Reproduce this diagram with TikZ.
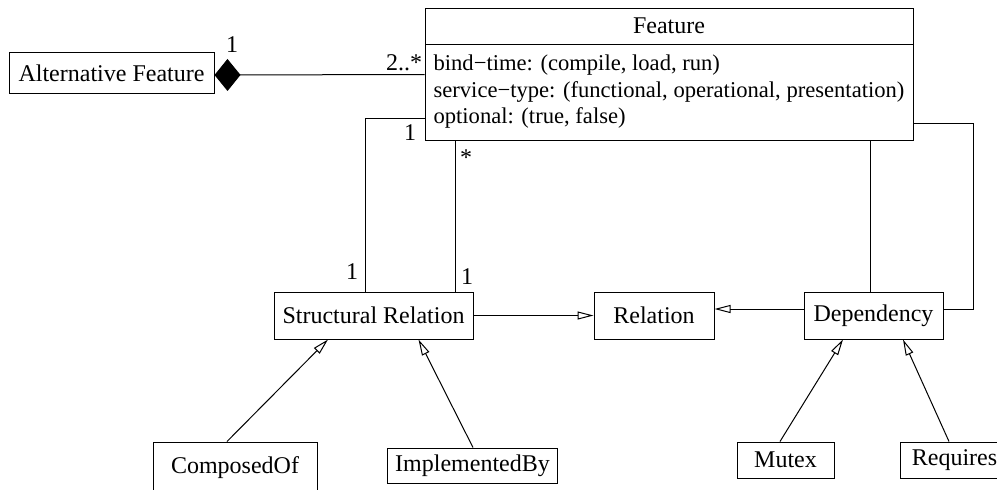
\documentclass[tikz,border=0pt]{standalone}
\usepackage{fontspec}
\setmainfont{Liberation Serif}
\usetikzlibrary{shapes,positioning,calc,arrows.meta}

\begin{document}
\begin{tikzpicture}
  [x=0.5pt,y=-0.5pt,
   font=\fontsize{12}{13.25}\selectfont,
   line width=0.5pt,
   classN/.style={draw,rectangle,inner xsep=4pt,inner ysep=2.5pt,minimum height=23.5pt},
   attrN/.style={draw,rectangle,align=left,inner xsep=3.5pt,minimum width=244pt,minimum height=48pt,
                 font=\fontsize{11.3}{13.25}\selectfont},
   multN/.style={inner sep=1pt},
   inherit/.style={-{Triangle[open,length=8pt,width=4pt]}},
   compose/.style={-{Diamond[length=13pt,width=16pt]}},
   node distance=0pt]

  \useasboundingbox (0,0) rectangle (997,489);

  \node[classN,minimum width=244pt,minimum height=18pt] (feat) at (669,26) {Feature};
  \node[attrN] (featattr) [below=-0.5pt of feat]
    {bind−time: (compile, load, run)\\
     service−type: (functional, operational, presentation)\\
     optional: (true, false)};

  \node[classN,minimum width=102.5pt,minimum height=20.5pt] (altf) at (111.5,73) {Alternative Feature};

  \node[classN,minimum width=99.5pt] (sr)  at (373.5,315.5) {Structural Relation};
  \node[classN,minimum width=60pt]   (rel) [right=60pt of sr]  {Relation};
  \node[classN,minimum width=69.5pt] (dep) at (873.5,315.5) {Dependency};

  \node[classN,minimum width=82pt,minimum height=26pt]   (comp)  at (235,468)     {ComposedOf};
  \node[classN,minimum width=84.5pt,minimum height=17.5pt] (impl) at (472.5,465.5) {ImplementedBy};
  \node[classN,minimum width=48.5pt,minimum height=18pt] (mutex) at (785.5,460)   {Mutex};
  \node[classN,minimum width=54.5pt,minimum height=18pt] (req)   at (954.5,460)   {Requires};

  \coordinate (srA)  at ($(sr.north)+(-8.5,0)$);
  \coordinate (srB)  at ($(sr.north)+(81.5,0)$);
  \coordinate (depA) at ($(dep.north)+(-3,0)$);
  \coordinate (depB) at ($(dep.east)+(0,-6.5)$);
  \coordinate (depC) at ($(dep.east)+(30,-6.5)$);
  \coordinate (featL) at ($(featattr.west)+(0,26)$);
  \coordinate (featR) at ($(featattr.east)+(0,31)$);
  \coordinate (featC) at ($(featattr.north west)+(0,31)$);

  \draw[compose] (featC) -- ($(altf.east)+(0,2)$);
  \draw (srA) |- (featL);
  \draw (srB) -- (srB |- featattr.south);
  \draw (depA) -- (depA |- featattr.south);
  \draw (featR) -| (depC) -- (depB);

  \draw[inherit] (sr) -- (rel);
  \draw[inherit] (depB -| dep.west) -- (depB -| rel.east);
  \draw[inherit] ($(comp.north)+(-8,0)$) -- ($(sr.south)+(-45.5,0)$);
  \draw[inherit] ($(impl.north)+(0.5,0)$) -- ($(sr.south)+(45,0)$);
  \draw[inherit] ($(mutex.north)+(-5.5,0)$) -- ($(dep.south)+(-30.5,0)$);
  \draw[inherit] ($(req.north)+(-5.5,0)$) -- ($(dep.south)+(29.5,0)$);

  \node[multN] (m1) at (232,45)  {1};
  \node[multN] (m2) at (404,63)  {2..*};
  \node[multN] (m3) at (410,133) {1};
  \node[multN] (m4) at (352,272) {1};
  \node[multN] (m5) at (466,158) {*};
  \node[multN] (m6) at (467,277) {1};
\end{tikzpicture}
\end{document}
